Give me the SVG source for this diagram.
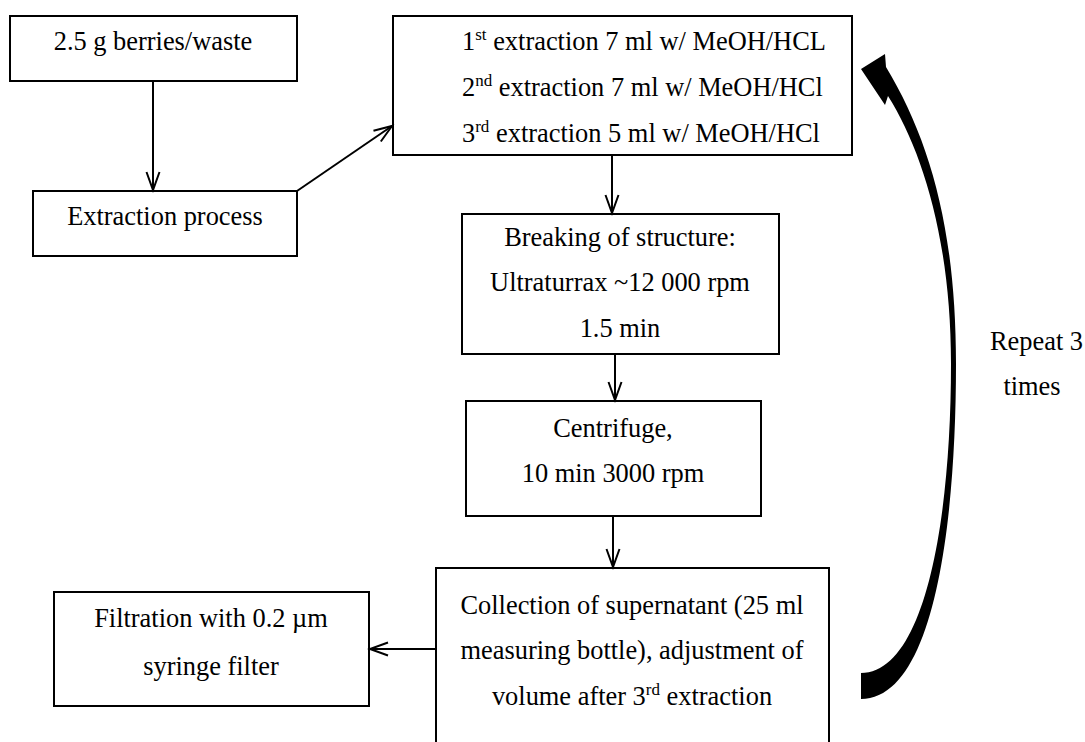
<svg xmlns="http://www.w3.org/2000/svg" width="1085" height="742" viewBox="0 0 1085 742">
<style>
.box{fill:#fff;stroke:#000;stroke-width:2}
.t{font-family:"Liberation Serif","Times New Roman",serif;font-size:26.4px;fill:#000}
.c{text-anchor:middle}
.edge{stroke:#000;stroke-width:2;fill:none;marker-end:url(#v)}
</style>
<defs>
<marker id="v" markerUnits="userSpaceOnUse" markerWidth="24" markerHeight="16" refX="20" refY="8" orient="auto" viewBox="0 0 24 16">
<path d="M2,1.5 L20,8 L2,14.5" fill="none" stroke="#000" stroke-width="2"/>
</marker>
</defs>
<rect width="1085" height="742" fill="#fff"/>
<g id="n1">
<rect class="box" x="10" y="16" width="287" height="65"/>
<text class="t c" x="153" y="50">2.5 g berries/waste</text>
</g>
<g id="n2">
<rect class="box" x="33" y="191" width="264" height="65"/>
<text class="t c" x="165" y="225">Extraction process</text>
</g>
<g id="n3">
<rect class="box" x="393" y="16" width="459" height="139"/>
<text class="t" x="462" y="50">1<tspan font-size="17" dy="-10">st</tspan><tspan dy="10"> extraction 7 ml w/ MeOH/HCL</tspan></text>
<text class="t" x="462" y="96">2<tspan font-size="17" dy="-10">nd</tspan><tspan dy="10"> extraction 7 ml w/ MeOH/HCl</tspan></text>
<text class="t" x="462" y="142">3<tspan font-size="17" dy="-10">rd</tspan><tspan dy="10"> extraction 5 ml w/ MeOH/HCl</tspan></text>
</g>
<g id="n4">
<rect class="box" x="462" y="214" width="317" height="140"/>
<text class="t c" x="620" y="246">Breaking of structure:</text>
<text class="t c" x="620" y="291">Ultraturrax ~12 000 rpm</text>
<text class="t c" x="620" y="337">1.5 min</text>
</g>
<g id="n5">
<rect class="box" x="466" y="401" width="295" height="115"/>
<text class="t c" x="613" y="437">Centrifuge,</text>
<text class="t c" x="613" y="482">10 min 3000 rpm</text>
</g>
<g id="n6">
<rect class="box" x="436" y="568" width="393" height="190"/>
<text class="t c" x="632" y="614">Collection of supernatant (25 ml</text>
<text class="t c" x="632" y="659">measuring bottle), adjustment of</text>
<text class="t c" x="632" y="705">volume after 3<tspan font-size="17" dy="-10">rd</tspan><tspan dy="10"> extraction</tspan></text>
</g>
<g id="n7">
<rect class="box" x="54" y="592" width="315" height="114"/>
<text class="t c" x="211" y="627">Filtration with 0.2 µm</text>
<text class="t c" x="211" y="675">syringe filter</text>
</g>
<g id="connectors">
<line class="edge" x1="153" y1="81" x2="153" y2="190"/>
<line class="edge" x1="297" y1="191" x2="392" y2="126"/>
<line class="edge" x1="612" y1="155" x2="612" y2="213"/>
<line class="edge" x1="615" y1="354" x2="615" y2="400"/>
<line class="edge" x1="613" y1="516" x2="613" y2="567"/>
<line class="edge" x1="436" y1="649" x2="370" y2="649"/>
<path id="loop" d="M861,69 L885,54 L886,67 C930,140 956,230 956,364 C956,520 935,699 861,699 L861,673 C925,673 951,520 951,364 C951,240 922,150 888,96 L885,105 Z" fill="#000"/>
<text class="t" x="990" y="350">Repeat 3</text>
<text class="t c" x="1032" y="395">times</text>
</g>
</svg>
